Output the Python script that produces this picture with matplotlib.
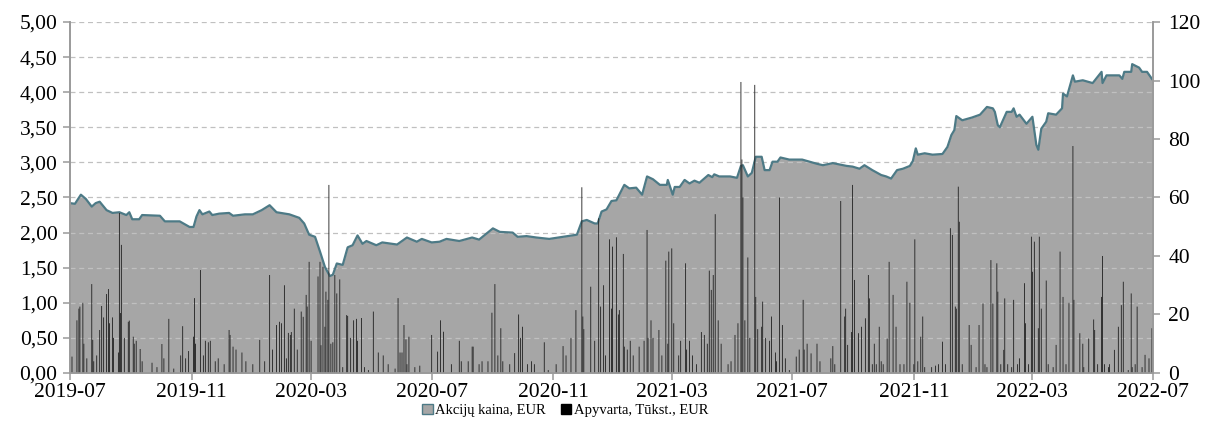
import matplotlib
matplotlib.use("Agg")
import matplotlib.pyplot as plt
import matplotlib.dates as mdates
from matplotlib.patches import Patch
from matplotlib.ticker import FuncFormatter, MultipleLocator
import pandas as pd

plt.rcParams['font.family'] = ['Liberation Serif', 'DejaVu Serif']

# ---------------- data ----------------
price_dates = [
 "2019-07-01","2019-07-06","2019-07-12","2019-07-17","2019-07-23","2019-07-27","2019-07-31",
 "2019-08-07","2019-08-13","2019-08-20","2019-08-27","2019-08-30","2019-09-02","2019-09-09",
 "2019-09-12","2019-09-30","2019-10-05","2019-10-20","2019-10-30","2019-11-03","2019-11-06",
 "2019-11-09","2019-11-12","2019-11-19","2019-11-22","2019-11-29","2019-12-09","2019-12-13",
 "2019-12-25","2020-01-02","2020-01-11","2020-01-19","2020-01-26","2020-02-08","2020-02-18",
 "2020-02-23","2020-02-28","2020-03-05","2020-03-10","2020-03-15","2020-03-20","2020-03-23",
 "2020-03-27","2020-04-02","2020-04-07","2020-04-12","2020-04-17","2020-04-22","2020-04-26",
 "2020-05-06","2020-05-12","2020-05-27","2020-06-06","2020-06-16","2020-06-21","2020-07-01",
 "2020-07-09","2020-07-16","2020-07-29","2020-08-11","2020-08-18","2020-09-01","2020-09-08",
 "2020-09-21","2020-09-26","2020-10-05","2020-10-15","2020-10-28","2020-11-11","2020-11-25",
 "2020-11-30","2020-12-05","2020-12-13","2020-12-16","2020-12-20","2020-12-25","2020-12-30",
 "2021-01-04","2021-01-12","2021-01-17","2021-01-24","2021-01-30","2021-02-04","2021-02-10",
 "2021-02-17","2021-02-24","2021-02-25","2021-03-02","2021-03-04","2021-03-09","2021-03-14",
 "2021-03-19","2021-03-24","2021-03-29","2021-04-07","2021-04-11","2021-04-13","2021-04-18",
 "2021-04-29","2021-05-06","2021-05-10","2021-05-12","2021-05-17","2021-05-21","2021-05-25",
 "2021-05-31","2021-06-03","2021-06-08","2021-06-11","2021-06-16","2021-06-19","2021-06-28",
 "2021-07-11","2021-07-26","2021-08-01","2021-08-11","2021-08-25","2021-08-31","2021-09-07",
 "2021-09-12","2021-09-20","2021-09-29","2021-10-04","2021-10-09","2021-10-15","2021-10-21",
 "2021-10-28","2021-10-31","2021-11-03","2021-11-05","2021-11-12","2021-11-20","2021-11-30",
 "2021-12-05","2021-12-09","2021-12-12","2021-12-14","2021-12-20","2021-12-30","2022-01-07",
 "2022-01-14","2022-01-20","2022-01-22","2022-01-25","2022-01-27","2022-02-03","2022-02-08",
 "2022-02-10","2022-02-13","2022-02-16","2022-02-23","2022-03-01","2022-03-05","2022-03-07",
 "2022-03-10","2022-03-15","2022-03-17","2022-03-25","2022-03-31","2022-04-01","2022-04-05",
 "2022-04-11","2022-04-13","2022-04-21","2022-05-01","2022-05-10","2022-05-11","2022-05-15",
 "2022-05-28","2022-05-31","2022-06-02","2022-06-09","2022-06-10","2022-06-17","2022-06-20",
 "2022-06-25","2022-06-30",
]
price_values = [
 2.42,2.41,2.54,2.48,2.37,2.42,2.44,
 2.32,2.28,2.29,2.25,2.29,2.19,2.19,
 2.25,2.24,2.16,2.16,2.08,2.08,2.23,
 2.32,2.26,2.30,2.25,2.27,2.28,2.24,
 2.26,2.26,2.32,2.39,2.29,2.26,2.21,
 2.13,1.97,1.94,1.73,1.51,1.38,1.40,
 1.56,1.54,1.79,1.82,1.96,1.84,1.88,
 1.82,1.86,1.83,1.93,1.87,1.91,1.86,
 1.87,1.91,1.88,1.93,1.90,2.06,2.01,
 2.00,1.94,1.95,1.93,1.91,1.94,1.97,
 2.16,2.18,2.13,2.13,2.30,2.33,2.45,
 2.46,2.68,2.63,2.64,2.54,2.80,2.76,
 2.68,2.68,2.75,2.54,2.65,2.65,2.75,
 2.70,2.74,2.71,2.82,2.79,2.83,2.80,
 2.80,2.78,2.95,2.96,2.80,2.85,3.08,
 3.08,2.89,2.89,3.01,3.01,3.07,3.04,
 3.04,2.98,2.96,2.99,2.95,2.94,2.91,
 2.96,2.89,2.82,2.80,2.77,2.89,2.91,
 2.95,3.02,3.20,3.11,3.13,3.11,3.12,
 3.22,3.39,3.46,3.66,3.60,3.64,3.68,
 3.79,3.77,3.72,3.53,3.50,3.72,3.72,
 3.77,3.65,3.68,3.55,3.65,3.25,3.18,
 3.48,3.58,3.70,3.68,3.77,3.98,3.94,
 4.24,4.15,4.17,4.13,4.29,4.13,4.24,
 4.24,4.19,4.29,4.29,4.40,4.35,4.29,
 4.29,4.19,
]

vol_dates = [
 "2019-07-03","2019-07-08","2019-07-10","2019-07-11","2019-07-14","2019-07-15","2019-07-18",
 "2019-07-23","2019-07-24","2019-07-25","2019-07-28","2019-07-31","2019-08-02","2019-08-04",
 "2019-08-07","2019-08-09","2019-08-10","2019-08-13","2019-08-14","2019-08-19","2019-08-20",
 "2019-08-21","2019-08-22","2019-08-25","2019-08-29","2019-08-30","2019-09-03","2019-09-04",
 "2019-09-06","2019-09-10","2019-09-12","2019-09-22","2019-09-27","2019-10-02","2019-10-04",
 "2019-10-09","2019-10-14","2019-10-21","2019-10-23","2019-10-26","2019-10-29","2019-11-03",
 "2019-11-04","2019-11-05","2019-11-10","2019-11-13","2019-11-15","2019-11-18","2019-11-20",
 "2019-11-25","2019-11-28","2019-12-04","2019-12-09","2019-12-10","2019-12-13","2019-12-16",
 "2019-12-22","2019-12-26","2020-01-02","2020-01-09","2020-01-14","2020-01-19","2020-01-22",
 "2020-01-26","2020-01-29","2020-01-31","2020-02-03","2020-02-05","2020-02-07","2020-02-09",
 "2020-02-10","2020-02-13","2020-02-16","2020-02-20","2020-02-22","2020-02-25","2020-02-26",
 "2020-02-28","2020-03-01","2020-03-08","2020-03-10","2020-03-11","2020-03-13","2020-03-15",
 "2020-03-16","2020-03-18","2020-03-19","2020-03-21","2020-03-23","2020-03-25","2020-03-27",
 "2020-03-30","2020-04-02","2020-04-06","2020-04-07","2020-04-10","2020-04-13","2020-04-16",
 "2020-04-17","2020-04-21","2020-04-24","2020-04-28","2020-05-03","2020-05-08","2020-05-13",
 "2020-05-18","2020-05-25","2020-05-28","2020-05-30","2020-06-01","2020-06-03","2020-06-05",
 "2020-06-06","2020-06-08","2020-06-14","2020-06-19","2020-07-01","2020-07-07","2020-07-10",
 "2020-07-13","2020-07-21","2020-07-29","2020-07-31","2020-08-07","2020-08-11","2020-08-12",
 "2020-08-18","2020-08-21","2020-08-27","2020-08-31","2020-09-03","2020-09-06","2020-09-09",
 "2020-09-11","2020-09-18","2020-09-23","2020-09-27","2020-09-29","2020-10-01","2020-10-06",
 "2020-10-10","2020-10-13","2020-10-23","2020-10-27","2020-11-04","2020-11-11","2020-11-14",
 "2020-11-19","2020-11-24","2020-11-30","2020-12-01","2020-12-02","2020-12-09","2020-12-13",
 "2020-12-17","2020-12-19","2020-12-22","2020-12-24","2020-12-28","2020-12-30","2020-12-31",
 "2021-01-04","2021-01-06","2021-01-07","2021-01-11","2021-01-12","2021-01-15","2021-01-18",
 "2021-01-21","2021-01-27","2021-02-01","2021-02-04","2021-02-05","2021-02-08","2021-02-10",
 "2021-02-16","2021-02-19","2021-02-23","2021-02-25","2021-02-26","2021-03-01","2021-03-03",
 "2021-03-08","2021-03-10","2021-03-15","2021-03-16","2021-03-19","2021-03-22","2021-03-26",
 "2021-03-31","2021-04-03","2021-04-06","2021-04-08","2021-04-10","2021-04-12","2021-04-14",
 "2021-04-17","2021-04-20","2021-04-27","2021-04-30","2021-05-04","2021-05-07","2021-05-10",
 "2021-05-11","2021-05-12","2021-05-14","2021-05-17","2021-05-19","2021-05-24","2021-05-25",
 "2021-05-27","2021-05-31","2021-06-01","2021-06-04","2021-06-08","2021-06-10","2021-06-14",
 "2021-06-15","2021-06-18","2021-06-21","2021-06-24","2021-06-28","2021-07-05","2021-07-08",
 "2021-07-12","2021-07-13","2021-07-16","2021-07-20","2021-07-26","2021-07-29","2021-08-09",
 "2021-08-11","2021-08-13","2021-08-19","2021-08-23","2021-08-24","2021-08-26","2021-08-30",
 "2021-08-31","2021-09-02","2021-09-06","2021-09-09","2021-09-13","2021-09-16","2021-09-17",
 "2021-09-20","2021-09-22","2021-09-24","2021-09-27","2021-09-29","2021-10-01","2021-10-05",
 "2021-10-07","2021-10-11","2021-10-14","2021-10-18","2021-10-22","2021-10-25","2021-10-28",
 "2021-11-01","2021-11-02","2021-11-05","2021-11-08","2021-11-10","2021-11-12","2021-11-19",
 "2021-11-23","2021-11-26","2021-11-30","2021-12-03","2021-12-08","2021-12-10","2021-12-13",
 "2021-12-14","2021-12-16","2021-12-17","2021-12-20","2021-12-27","2021-12-29","2022-01-03",
 "2022-01-06","2022-01-10","2022-01-12","2022-01-14","2022-01-18","2022-01-20","2022-01-24",
 "2022-01-25","2022-01-28","2022-01-31","2022-02-01","2022-02-04","2022-02-08","2022-02-10",
 "2022-02-14","2022-02-16","2022-02-21","2022-02-22","2022-02-25","2022-02-28","2022-03-01",
 "2022-03-03","2022-03-07","2022-03-08","2022-03-10","2022-03-15","2022-03-17","2022-03-22",
 "2022-03-25","2022-03-29","2022-04-01","2022-04-04","2022-04-07","2022-04-11","2022-04-12",
 "2022-04-18","2022-04-21","2022-04-22","2022-04-27","2022-05-02","2022-05-03","2022-05-06",
 "2022-05-10","2022-05-11","2022-05-13","2022-05-17","2022-05-18","2022-05-23","2022-05-27",
 "2022-05-30","2022-06-01","2022-06-06","2022-06-09","2022-06-10","2022-06-13","2022-06-15",
 "2022-06-20","2022-06-23","2022-06-27","2022-06-30",
]
vol_values = [
 5.6,18,22,22.7,24,10,5,
 30.4,11.3,4,6,14.7,22.9,19,
 27,28.7,17,19,12,7,54.7,
 20.5,43.8,12,17.5,17.9,12.4,10,
 11,8.2,4,3.5,2,9.9,5,
 18.5,1.5,6,16,5,7.5,12.4,
 25.6,10,35.2,6,11,10.5,11,
 4,5,3,14.7,13,9,8,
 7,4,3,11.3,4,33.5,8,
 16.4,17.5,17,30,5,13.7,13,
 14,22,8,21,19.2,26.7,22.7,
 38,11,33,38,9.5,36.3,15.8,
 27.8,25,64.3,10,10.5,33.5,27.2,
 32,2,19.8,19.5,12,18,18.5,
 11,18.8,2,1,21,7,6,
 3,1.5,25.6,7,7,16.4,11.5,
 3,12.4,2,2.5,13,7.3,18,
 14.1,3,11,4,4,9,9,
 3,4,4,20.6,30.4,6,15.3,
 4,3,6.8,20,12,15.8,3,
 4,3,10.5,1,3,9.2,6,
 12,21.5,63.5,19.3,15,29.5,11,
 52.9,22.7,30,6,45.7,22,43.2,
 46.4,20,21.5,40.7,9,8,11,
 6,9,11,48.9,12,18,12,
 14.7,6,38.4,10,41.5,42.6,17,
 6,11,37.5,8,11,6,3,
 14,13,10,35,28.4,33.5,54.3,
 18,10,3,4,13,17,99.5,
 73,60,18,39.5,12,98.5,26,
 15,15.8,24.4,12,11,19.3,7,
 4,60,16.4,5,1,5.6,8,
 25,8,10,6.7,10,4,5,
 9.2,3,58.8,19.3,22,9.6,14,
 64.3,31.8,13.6,15.8,18.7,33.5,25.5,
 3,10,3,15.8,4,3,11.8,
 38,26.7,15.8,3,3,31.2,24,
 3,45.7,4,12.4,19.3,2,2,
 2.5,3,10.7,3,49.5,47.2,22.7,
 22,63.7,51.7,3,16.4,9.6,2,
 16.4,23.8,3,2,38.6,23.8,37.5,
 27.8,3,7.9,25.5,3,2,25,
 3,5,30.7,17,3,46.6,34.6,
 44.9,15.3,46.6,22,31.6,3,2,
 9.6,41.5,26,3,24,77.6,25,
 13.6,10,2,11.8,18.3,14.7,3,
 26,40,3,2,3,7.9,15.8,
 23.2,31.2,1,27.2,2,3,22.7,
 2,6.2,5,15.3,
]

x_ticks = ["2019-07","2019-11","2020-03","2020-07","2020-11","2021-03",
           "2021-07","2021-11","2022-03","2022-07"]
legend_labels = ["Akcijų kaina, EUR", "Apyvarta, Tūkst., EUR"]

# ---------------- styles ----------------
FILL = "#a6a6a6"
LINE = "#4d7a86"
SPINE = "#9a9a9a"

pd_price = pd.to_datetime(price_dates)
pd_vol = pd.to_datetime(vol_dates)

fig = plt.figure(figsize=(12.05, 4.25), dpi=100)
ax = fig.add_axes([0.0581, 0.1224, 0.8987, 0.8258])
ax2 = ax.twinx()

ax.fill_between(pd_price, price_values, 0, color=FILL, linewidth=0, zorder=1)
ax.plot(pd_price, price_values, color=LINE, linewidth=1.6, zorder=2)

bars = ax2.bar(pd_vol, vol_values, width=0.9, color="#262626", linewidth=0, zorder=2)
for b in bars:
    b.set_snap(False)

ax.set_ylim(0, 5)
ax2.set_ylim(0, 120)
ax.set_xlim(pd.Timestamp("2019-07-01"), pd.Timestamp("2022-07-01"))

ax.yaxis.set_major_locator(MultipleLocator(0.5))
ax.yaxis.set_major_formatter(FuncFormatter(lambda v, p: f"{v:.2f}".replace(".", ",")))
ax2.yaxis.set_major_locator(MultipleLocator(20))
ax2.yaxis.set_major_formatter(FuncFormatter(lambda v, p: f"{int(round(v))}"))

ax.set_xticks(pd.to_datetime(x_ticks))
ax.xaxis.set_major_formatter(mdates.DateFormatter("%Y-%m"))

ax.grid(axis="y", color="#c0c0c0", linestyle=(0, (4, 3)), linewidth=0.9)
for gl in ax.get_ygridlines():
    gl.set_zorder(0.5)

for a in (ax, ax2):
    a.spines["top"].set_visible(False)
    for s in ("left", "right", "bottom"):
        a.spines[s].set_color(SPINE)
        a.spines[s].set_linewidth(1.2)
    a.tick_params(colors=SPINE, labelcolor="black", labelsize=15.5, length=5, width=1.1)
ax.tick_params(axis="x", pad=2)
ax.tick_params(axis="y", pad=4)
ax2.tick_params(axis="y", pad=6)

ax.set_zorder(1)
ax2.set_zorder(2)
ax2.patch.set_visible(False)

handles = [Patch(facecolor=FILL, edgecolor=LINE, linewidth=1.0),
           Patch(facecolor="black", edgecolor="black")]
fig.legend(handles, legend_labels, loc="lower center", bbox_to_anchor=(0.469, -0.012),
           ncol=2, frameon=False, fontsize=10.5, handlelength=0.75, handleheight=0.75,
           handletextpad=0.15, columnspacing=1.0)

fig.savefig("out.png", dpi=100)
